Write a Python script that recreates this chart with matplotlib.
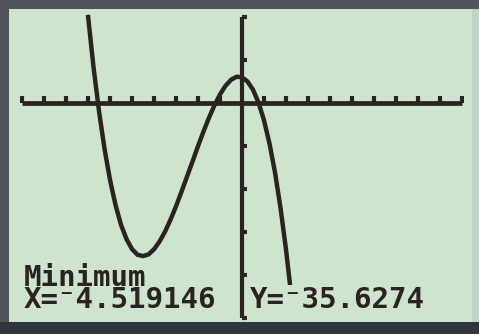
import matplotlib.pyplot as plt
from matplotlib.patches import Rectangle

# curve points
x = [-7.0, -6.75, -6.5, -6.25, -6.0, -5.75, -5.5, -5.25, -5.0, -4.75, -4.5,
     -4.25, -4.0, -3.75, -3.5, -3.25, -3.0, -2.75, -2.5, -2.25, -2.0, -1.75,
     -1.5, -1.25, -1.0, -0.75, -0.5, -0.25, 0.0, 0.25, 0.5, 0.75, 1.0, 1.25,
     1.5, 1.75, 2.0, 2.2]
y = [20.0, 8.1, -2.1, -10.8, -18.0, -23.8, -28.4, -31.7, -34.0, -35.3, -35.6,
     -35.2, -34.0, -32.2, -29.9, -27.1, -24.0, -20.6, -17.1, -13.6, -10.0, -6.6,
     -3.4, -0.5, 2.0, 4.0, 5.4, 6.1, 6.0, 5.0, 3.1, 0.1, -4.0, -9.4,
     -16.1, -24.3, -34.0, -42.9]

xmin, xmax, xscl = -10, 10, 1
ymin, ymax, yscl = -50, 20, 10

label = 'Minimum'
xtxt = 'X=\u207b4.519146'
ytxt = 'Y=\u207b35.6274'

W, H = 479, 334
screen = '#cfe4cf'
ink = '#2a2420'

fig = plt.figure(figsize=(W / 100, H / 100), dpi=100, facecolor='#4e545a')

# screen + bezel (behind the axes)
for r in [Rectangle((9 / W, 12 / H), 463 / W, 313 / H, facecolor=screen),
          Rectangle((472 / W, 12 / H), 7 / W, 313 / H, facecolor='#c3d2c6'),
          Rectangle((0, 0), 1, 12 / H, facecolor='#2f363c')]:
    r.set_transform(fig.transFigure)
    r.set_edgecolor('none')
    r.set_zorder(-5)
    fig.patches.append(r)

ax = fig.add_axes([20 / W, 12 / H, 444 / W, 308 / H])
ax.set_xlim(-10.1, 10.1)
ax.set_ylim(-50.93, 20.7)
ax.axis('off')

ax.plot([xmin, xmax], [0, 0], color=ink, lw=3.4, solid_capstyle='butt')
ax.plot([0, 0], [ymin, ymax], color=ink, lw=3.0, solid_capstyle='butt')
for t in range(xmin, xmax + 1, xscl):
    if t != 0:
        ax.plot([t, t], [0, 1.7], color=ink, lw=3.0, solid_capstyle='butt')
for t in range(ymin, ymax + 1, yscl):
    if t != 0:
        ax.plot([0, 0.25], [t, t], color=ink, lw=3.0, solid_capstyle='butt')

ax.plot(x, y, color=ink, lw=3.2, solid_joinstyle='miter')

font = dict(family='DejaVu Sans Mono', weight='bold', fontsize=21, color=ink)
fig.text(24 / W, 1 - 308 / H, label + '\n' + xtxt, va='baseline', ha='left',
         linespacing=0.72, **font)
fig.text(250 / W, 1 - 308 / H, ytxt, va='baseline', ha='left',
         bbox=dict(facecolor=screen, edgecolor='none', pad=1), **font)

fig.savefig('out.png', dpi=100, facecolor=fig.get_facecolor())
